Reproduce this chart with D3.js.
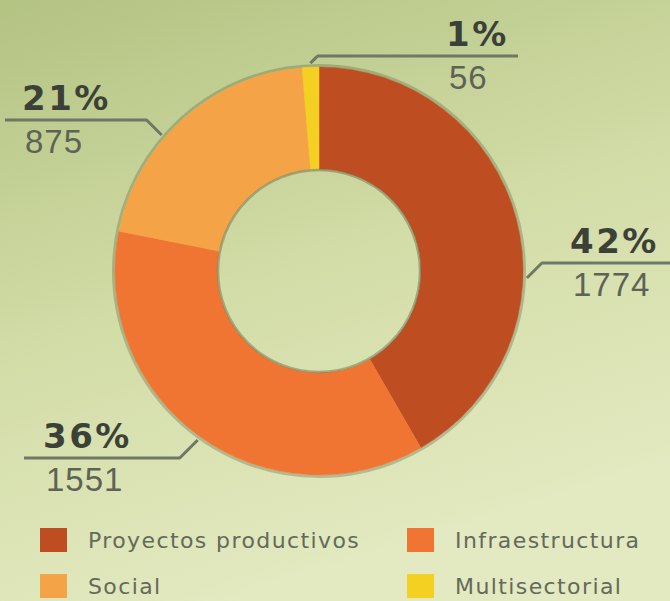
<!DOCTYPE html>
<html>
<head>
<meta charset="utf-8">
<script src="https://cdn.jsdelivr.net/npm/d3@7"></script>
<style>
  html, body { margin: 0; padding: 0; background: #cfd9a3; }
  svg { display: block; }
</style>
</head>
<body>
<div id="chart"></div>
<script>
// chart values
const categories = ['Proyectos productivos', 'Infraestructura', 'Social', 'Multisectorial'];
const counts = [1774, 1551, 875, 56];
const percentLabels = ['42%', '36%', '21%', '1%'];
const colors = ['#be4e22', '#f07532', '#f5a347', '#f3d022'];

// where each callout sits (layout only)
const callouts = [
  { tx: 570, lineY: 263, lineEnd: 670, bendDy: 15, side: 1 },
  { tx: 43, lineY: 458, lineEnd: 24, bendDy: -18, side: -1 },
  { tx: 22, lineY: 120, lineEnd: 5, bendDy: 15, side: -1 },
  { tx: 446, lineY: 56, lineEnd: 518, bendDy: 0, side: 1, useMid: true }
];

class Donut {

  constructor(opts) {
    this.element = opts.element;
    this.width = 670;
    this.height = 601;
    this.cx = 319;
    this.cy = 271;
    this.outer = 204;
    this.inner = 102;
    this.draw();
  }

  draw() {
    const svg = d3.select(this.element).append('svg')
      .attr('width', this.width)
      .attr('height', this.height);
    this.svg = svg;

    // background wash, olive at the top, pale at the bottom
    const grad = svg.append('defs').append('linearGradient')
      .attr('id', 'bg')
      .attr('x1', 0).attr('y1', 0)
      .attr('x2', 0.35).attr('y2', 1);
    grad.append('stop').attr('offset', '0%').attr('stop-color', '#b3c382');
    grad.append('stop').attr('offset', '55%').attr('stop-color', '#d3dda8');
    grad.append('stop').attr('offset', '100%').attr('stop-color', '#e3e9c0');

    svg.append('rect')
      .attr('width', this.width)
      .attr('height', this.height)
      .attr('fill', 'url(#bg)');

    this.plot = svg.append('g')
      .attr('transform', `translate(${this.cx},${this.cy})`);

    this.addRing();
    this.addCallouts();
    this.addLegend();
  }

  addRing() {
    const data = categories.map((c, i) => ({ name: c, value: counts[i], pct: percentLabels[i], color: colors[i] }));
    this.pie = d3.pie().sort(null).value(d => d.value)(data);

    const arc = d3.arc()
      .innerRadius(this.inner)
      .outerRadius(this.outer);

    // soft shadow round the ring
    this.plot.append('circle')
      .attr('r', this.outer + 1.5)
      .attr('fill', 'none')
      .attr('stroke', 'rgba(95,105,70,0.35)')
      .attr('stroke-width', 3);

    this.plot.selectAll('.slice')
      .data(this.pie)
      .enter().append('path')
        .attr('class', 'slice')
        .attr('fill', d => d.data.color)
        .attr('stroke', d => d.data.color)
        .attr('stroke-width', 0.5)
        .attr('d', arc);

    this.plot.append('circle')
      .attr('r', this.inner - 1)
      .attr('fill', 'none')
      .attr('stroke', 'rgba(95,105,70,0.45)')
      .attr('stroke-width', 2.5);
  }

  addCallouts() {
    const r = this.outer + 4;
    const g = this.svg.append('g').attr('class', 'callouts');

    this.pie.forEach((d, i) => {
      const c = callouts[i];
      let ax, ay;
      if (c.useMid) {
        const a = (d.startAngle + d.endAngle) / 2;
        ax = this.cx + r * Math.sin(a);
        ay = this.cy - r * Math.cos(a);
      } else {
        ay = c.lineY + c.bendDy;
        const dy = ay - this.cy;
        ax = this.cx + c.side * Math.sqrt(r * r - dy * dy);
      }
      const bx = ax + c.side * Math.abs(c.lineY - ay);

      g.append('path')
        .attr('d', `M${ax},${ay} L${bx},${c.lineY} L${c.lineEnd},${c.lineY}`)
        .attr('fill', 'none')
        .attr('stroke', '#6f7767')
        .attr('stroke-width', 3)
        .attr('stroke-linejoin', 'round');

      g.append('text')
        .attr('x', c.tx)
        .attr('y', c.lineY - 10)
        .text(d.data.pct)
        .style('font-family', '"DejaVu Sans", sans-serif')
        .style('font-weight', 'bold')
        .style('font-size', '34px')
        .style('letter-spacing', '2.5px')
        .style('fill', '#3c4138');

      g.append('text')
        .attr('x', c.tx + 3)
        .attr('y', c.lineY + 33)
        .text(d.data.value)
        .style('font-family', '"Liberation Sans", Arial, sans-serif')
        .style('font-size', '33px')
        .style('letter-spacing', '1px')
        .style('fill', '#5d6356');
    });
  }

  addLegend() {
    const x = d3.scalePoint().domain([0, 1]).range([40, 407]);
    const y = d3.scalePoint().domain([0, 1]).range([540, 586]);

    const items = this.svg.append('g').attr('class', 'legend')
      .selectAll('g')
      .data(categories)
      .enter().append('g')
        .attr('transform', (d, i) => `translate(${x(i % 2)},${y(Math.floor(i / 2))})`);

    items.append('rect')
      .attr('x', 0)
      .attr('y', -12)
      .attr('width', 27)
      .attr('height', 24)
      .attr('fill', (d, i) => colors[i]);

    items.append('text')
      .attr('x', 48)
      .attr('y', 8)
      .text(d => d)
      .style('font-family', '"DejaVu Sans", sans-serif')
      .style('font-size', '22px')
      .style('letter-spacing', '1.4px')
      .style('fill', '#646a5b');
  }
}

new Donut({ element: document.querySelector('#chart') });
</script>
</body>
</html>
